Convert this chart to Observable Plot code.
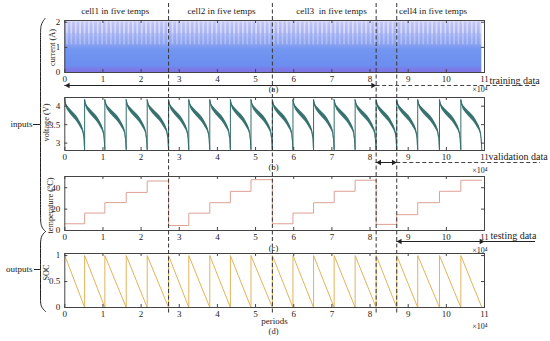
<!DOCTYPE html>
<html><head><meta charset="utf-8">
<script src="https://cdn.jsdelivr.net/npm/d3@7"></script>
<script src="https://cdn.jsdelivr.net/npm/@observablehq/plot@0.6"></script>
<style>
html,body{margin:0;padding:0;background:#fff;}
#fig{position:relative;width:550px;height:341px;overflow:hidden;background:#fff;}
#fig svg{position:absolute;left:0;overflow:visible;}
#fig svg text{font-family:"Liberation Serif","Times New Roman",serif;}
</style></head><body><div id="fig"></div>
<script>
// ---------------- data (x in units of 10^4 periods) ----------------
const cellTitles = ["cell1 in five temps", "cell2 in five temps", "cell3  in five temps", "cell4 in five temps"];
const boundaries = [0, 0.52, 1.05, 1.61, 2.16, 2.72, 3.25, 3.80, 4.34, 4.88, 5.44, 5.98, 6.52, 7.06, 7.61, 8.16, 8.70, 9.25, 9.82, 10.38, 10.93];
const separators = [2.72, 5.44, 8.16, 8.70];
const trainEnd = 8.16, validEnd = 8.70, testEnd = 11;
const temperatures = [6.3, 16.3, 26.1, 35.6, 46.3, 4.7, 16.2, 26.0, 36.6, 47.5, 6.3, 16.3, 26.0, 36.7, 47.0, 5.7, 14.8, 26.0, 36.7, 47.0];
const dischargeT = [0, 0.04, 0.12, 0.25, 0.40, 0.50, 0.60, 0.70, 0.80, 0.88, 0.93, 0.97, 1];
const dischargeV = [4.18, 4.07, 3.96, 3.87, 3.78, 3.72, 3.66, 3.58, 3.48, 3.40, 3.30, 3.12, 2.82];
const dischargeSpread = [0.02, 0.045, 0.06, 0.065, 0.07, 0.075, 0.075, 0.075, 0.07, 0.065, 0.055, 0.04, 0.02];
const currentRange = [0, 2.02];
const currentStripes = [1.1, 1.55, 2.02];
const xTicks = [0, 1, 2, 3, 4, 5, 6, 7, 8, 9, 10, 11];
const currentTicks = [0, 1, 2];
const voltageTicks = [3, 3.5, 4];
const tempTicks = [0, 20, 40];
const socTicks = [0, 0.5, 1];
const panelTags = ["(a)", "(b)", "(c)", "(d)"];

// ---------------- derived rows ----------------
const segs = boundaries.slice(0, -1).map((b, i) => ({i, start: b, end: boundaries[i + 1]}));
const lastEnd = boundaries[boundaries.length - 1];
const voltageRows = segs.flatMap(s => dischargeT.map((t, k) => ({
  seg: s.i, x: s.start + t * (s.end - s.start), v: dischargeV[k],
  lo: dischargeV[k] - dischargeSpread[k], hi: dischargeV[k] + dischargeSpread[k]
})));
const socRows = segs.flatMap(s => [{x: s.start, soc: 1}, {x: s.end, soc: 0}]);
const tempRows = segs.map(s => ({x: s.start, temp: temperatures[s.i]}))
  .concat([{x: lastEnd, temp: temperatures[temperatures.length - 1]}]);

// ---------------- layout ----------------
const FONT = '"Liberation Serif", "Times New Roman", serif';
const fig = document.getElementById("fig");
const ML = 64.3, MR = 66, W = 550;
const FW = W - ML - MR;
const AX = "#444";

function panel({top, mt, fh, mb, yDomain, yTicks, marks}) {
  const svg = Plot.plot({
    width: W, height: mt + fh + mb,
    marginLeft: ML, marginRight: MR, marginTop: mt, marginBottom: mb,
    x: {domain: [0, 11]}, y: {domain: yDomain},
    style: {fontFamily: FONT, fontSize: "9px", background: "transparent", overflow: "visible", color: "#222"},
    marks: [
      ...marks,
      Plot.tickX(xTicks, {insetTop: fh - 3, stroke: AX}),
      Plot.tickX(xTicks, {insetBottom: fh - 3, stroke: AX}),
      Plot.tickY(yTicks, {insetRight: FW - 3, stroke: AX}),
      Plot.tickY(yTicks, {insetLeft: FW - 3, stroke: AX}),
      Plot.frame({stroke: AX, strokeWidth: 1}),
      Plot.axisX(xTicks, {tickSize: 0, tickPadding: 3.5, label: null, fontSize: 9, tickFormat: d => String(d)}),
      Plot.axisY(yTicks, {tickSize: 0, tickPadding: 4.5, label: null, fontSize: 9, tickFormat: d => String(d)})
    ]
  });
  svg.style.top = top + "px";
  fig.append(svg);
  return svg;
}

const pa = panel({top: 0, mt: 20, fh: 52, mb: 20, yDomain: [0, 2.07], yTicks: currentTicks, marks: [
  Plot.rect([{x1: 0, x2: lastEnd, y1: currentRange[0], y2: currentRange[1]}], {x1: "x1", x2: "x2", y1: "y1", y2: "y2", fill: "url(#curGrad)"}),
  Plot.rect([{x1: 0, x2: lastEnd, y1: currentStripes[0], y2: currentStripes[1]}], {x1: "x1", x2: "x2", y1: "y1", y2: "y2", fill: "url(#curStripes)", fillOpacity: 0.35}),
  Plot.rect([{x1: 0, x2: lastEnd, y1: currentStripes[1], y2: currentStripes[2]}], {x1: "x1", x2: "x2", y1: "y1", y2: "y2", fill: "url(#curStripes)", fillOpacity: 0.7})
]});

// gradient + stripe pattern for the dense current signal
{
  const defs = d3.select(pa).insert("defs", ":first-child");
  const g = defs.append("linearGradient").attr("id", "curGrad").attr("x1", 0).attr("y1", 0).attr("x2", 0).attr("y2", 1);
  [[0, "#c4c6f6"], [0.12, "#b4bbf4"], [0.3, "#9dadf2"], [0.45, "#8aa2f0"], [0.55, "#7396f0"], [0.88, "#6b8ef0"], [0.92, "#7a7de8"], [1, "#7c76e5"]]
    .forEach(([o, c]) => g.append("stop").attr("offset", o).attr("stop-color", c));
  const p = defs.append("pattern").attr("id", "curStripes").attr("patternUnits", "userSpaceOnUse").attr("width", 4.4).attr("height", 40);
  p.append("rect").attr("x", 0).attr("y", 0).attr("width", 1.8).attr("height", 40).attr("fill", "#e8e8fc");
}

const VCOL = "#316e6c";
panel({top: 92, mt: 5, fh: 53, mb: 22, yDomain: [2.80, 4.235], yTicks: voltageTicks, marks: [
  Plot.areaY(voltageRows, {x: "x", y1: "lo", y2: "hi", z: "seg", fill: VCOL, fillOpacity: 0.95}),
  Plot.line(voltageRows, {x: "x", y: "v", stroke: VCOL, strokeWidth: 1})
]});

panel({top: 172, mt: 4, fh: 54, mb: 18, yDomain: [0, 50.5], yTicks: tempTicks, marks: [
  Plot.line(tempRows, {x: "x", y: "temp", curve: "step-after", stroke: "#dea094", strokeWidth: 1})
]});

panel({top: 248, mt: 5, fh: 54, mb: 34, yDomain: [0, 1.04], yTicks: socTicks, marks: [
  Plot.line(socRows, {x: "x", y: "soc", stroke: "#e2b35a", strokeWidth: 1})
]});

// ---------------- annotation layer (pixel coordinates, x from the panels' scale) ----------------
const X = pa.scale("x");
const px = v => X.apply(v);
const INK = "#222";

const titleX = [114.7, 221, 331, 432.5];
const tagY = [89, 167, 248, 331];
const expY = [89, 170, 250, 326];

const arrows = [
  {y: 85, a: px(0), b: px(trainEnd), rest: px(trainEnd), restEnd: 537, dash: true, label: "training data", lx: 489, ly: 80},
  {y: 162, a: px(trainEnd), b: px(validEnd), rest: px(validEnd), restEnd: 540, dash: true, label: "validation data", lx: 488, ly: 156},
  {y: 241, a: px(validEnd), b: px(testEnd), rest: px(testEnd), restEnd: 535, dash: false, label: "testing data", lx: 490, ly: 235.5}
];
const heads = arrows.flatMap(d => [{x: d.a + 3.2, y: d.y, r: -90}, {x: d.b - 3.2, y: d.y, r: 90}]);

const braceIn = [[44.5, 18], [40, 24], [40, 34], [40, 124], [40, 214], [40, 226], [45, 231]].map(([x, y]) => ({x, y}));
const braceOut = [[45, 231], [40, 236], [40, 246], [40, 269], [40, 298], [40, 306], [45, 311]].map(([x, y]) => ({x, y}));

const axisLabels = [
  {t: "current (A)", x: 51.5, y: 47},
  {t: "voltage (V)", x: 46, y: 122},
  {t: "temperature (°C)", x: 50, y: 205},
  {t: "SOC", x: 46, y: 272}
];

const overlay = Plot.plot({
  width: W, height: 341, margin: 0,
  x: {type: "identity", axis: null}, y: {type: "identity", axis: null},
  style: {fontFamily: FONT, background: "transparent", overflow: "visible", color: INK},
  marks: [
    Plot.ruleX(separators, {x: d => px(d), y1: 3, y2: 313, stroke: "#333", strokeWidth: 1, strokeDasharray: "4,2.5"}),
    Plot.text(cellTitles, {x: (d, i) => titleX[i], y: 11, text: d => d, fontSize: 9.2, fill: INK}),
    // arrows
    Plot.ruleY(arrows, {y: "y", x1: "a", x2: "b", stroke: INK, strokeWidth: 1}),
    Plot.ruleY(arrows.filter(d => d.dash), {y: "y", x1: "rest", x2: "restEnd", stroke: "#444", strokeWidth: 1, strokeDasharray: "4,2.5"}),
    Plot.ruleY(arrows.filter(d => !d.dash), {y: "y", x1: "rest", x2: "restEnd", stroke: INK, strokeWidth: 1}),
    Plot.dot(heads, {x: "x", y: "y", rotate: "r", symbol: "triangle", r: 2.1, fill: INK, stroke: null}),
    Plot.text(arrows, {x: "lx", y: "ly", text: "label", textAnchor: "start", fontSize: 10, fill: INK}),
    // panel tags, x label and exponent
    Plot.text(panelTags, {x: 273, y: (d, i) => tagY[i], text: d => d, fontSize: 8.5, fill: INK}),
    Plot.text(["periods"], {x: 274, y: 321, text: d => d, fontSize: 9, fill: INK}),
    Plot.text(expY, {x: 487, y: d => d, text: () => "×10⁴", textAnchor: "end", fontSize: 8, fill: INK}),
    // axis titles
    Plot.text(axisLabels, {x: "x", y: "y", text: "t", rotate: -90, fontSize: 8.3, fill: INK}),
    // braces
    Plot.line(braceIn, {x: "x", y: "y", curve: "basis", stroke: INK, strokeWidth: 1}),
    Plot.line(braceOut, {x: "x", y: "y", curve: "basis", stroke: INK, strokeWidth: 1}),
    Plot.ruleY([124], {x1: 33, x2: 40, stroke: INK, strokeWidth: 1}),
    Plot.ruleY([269], {x1: 34, x2: 40, stroke: INK, strokeWidth: 1}),
    Plot.text([{t: "inputs", y: 124}, {t: "outputs", y: 269}], {x: 32, y: "y", text: "t", textAnchor: "end", fontSize: 9, fill: INK})
  ]
});
overlay.style.top = "0px";
fig.append(overlay);
</script>
</body></html>
